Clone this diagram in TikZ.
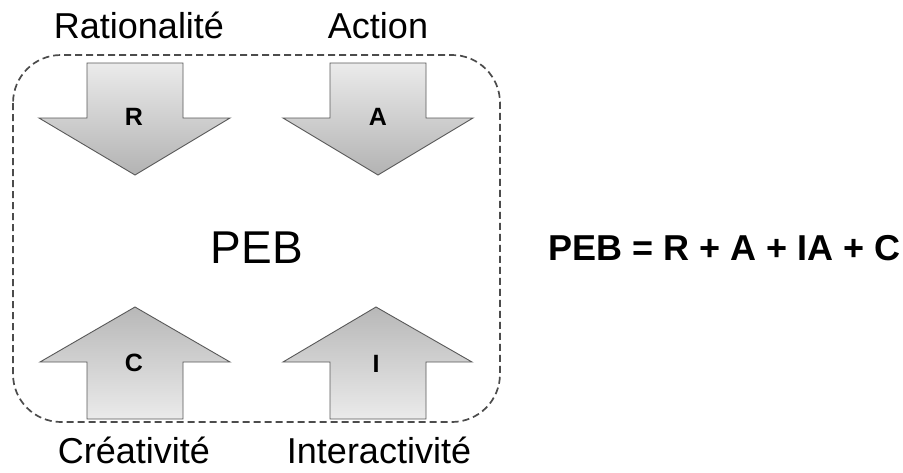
\documentclass[tikz,border=0pt]{standalone}
\usepackage{fontspec}
\setmainfont{Liberation Sans}
\begin{document}
\begin{tikzpicture}[x=1pt,y=-1pt,
  arrowshape/.style={draw=black!65, line width=0.9pt, line join=miter},
  downfill/.style={top color=black!8, bottom color=black!30},
  upfill/.style={top color=black!28, bottom color=black!8},
  letter/.style={font=\fontsize{25}{25}\selectfont\bfseries, inner sep=0pt},
  caption/.style={font=\fontsize{36}{36}\selectfont, inner sep=0pt, anchor=base}]
\useasboundingbox (0,0) rectangle (903,472);
\fill[white] (0,0) rectangle (903,472);
% dashed frame
\draw[black!70, line width=1.7pt, dash pattern=on 7pt off 4pt, rounded corners=48pt]
  (13,55) rectangle (500,422);
% down arrows
\draw[arrowshape, downfill] (87,63) -- (183,63) -- (183,118) -- (230,118) -- (135,175) -- (39,118) -- (87,118) -- cycle;
\draw[arrowshape, downfill] (330,63) -- (426,63) -- (426,118) -- (473,118) -- (378,175) -- (283,118) -- (330,118) -- cycle;
% up arrows
\draw[arrowshape, upfill] (87,419) -- (183,419) -- (183,362) -- (230,362) -- (135,307) -- (40,362) -- (87,362) -- cycle;
\draw[arrowshape, upfill] (330,419) -- (426,419) -- (426,362) -- (472,362) -- (376,307) -- (283,362) -- (330,362) -- cycle;
% letters
\node[letter] (r) at (134,117) {R};
\node[letter] (a) at (378,117) {A};
\node[letter] (c) at (134,363) {C};
\node[letter] (i) at (376,364) {I};
% captions
\node[caption] (lr) at (139,38) {Rationalité};
\node[caption] (la) at (378,38) {Action};
\node[caption] (lc) at (134,463) {Créativité};
\node[caption] (li) at (379,463) {Interactivité};
% centre
\node[font=\fontsize{46}{46}\selectfont, inner sep=0pt, anchor=base] (peb) at (257,263) {PEB};
% equation
\node[font=\fontsize{36}{36}\selectfont\bfseries, inner sep=0pt, anchor=base west] (eq) at (548,260) {PEB = R + A + IA + C};
\end{tikzpicture}
\end{document}
